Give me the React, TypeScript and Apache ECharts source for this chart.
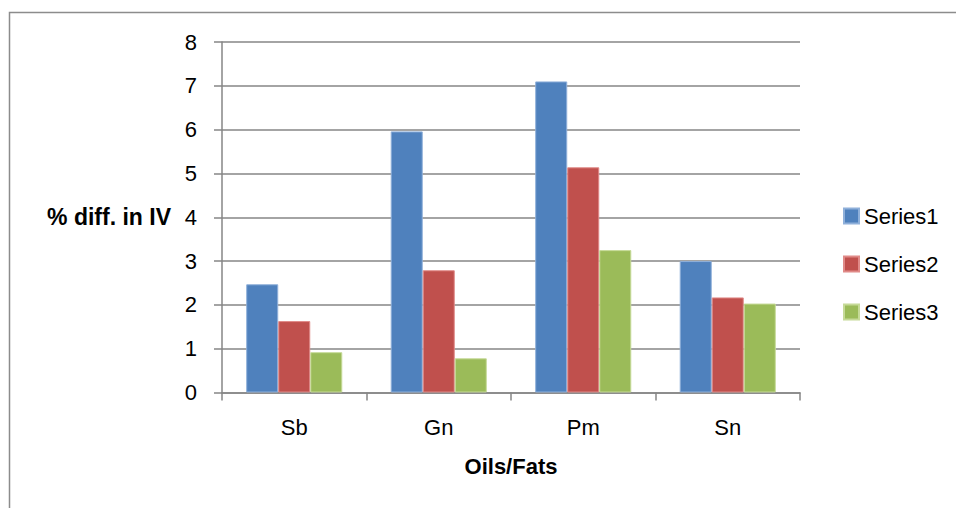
import React, { useEffect, useRef } from "react";
import * as echarts from "echarts";

const categories = ["Sb", "Gn", "Pm", "Sn"];
const series1 = [2.47, 5.96, 7.1, 3.0];
const series2 = [1.63, 2.79, 5.14, 2.17];
const series3 = [0.92, 0.78, 3.25, 2.03];
const seriesNames = ["Series1", "Series2", "Series3"];
const colors = ["#4F81BD", "#C0504D", "#9BBB59"];
const edgeColors = ["#8FB0DA", "#E08A88", "#C6DA98"];
const yTitle = "% diff. in IV";
const xTitle = "Oils/Fats";

const FONT = "'Liberation Sans', Arial, sans-serif";

export default function App() {
  const ref = useRef<HTMLDivElement>(null);
  useEffect(() => {
    if (!ref.current) return;
    const chart = echarts.init(ref.current, undefined, { renderer: "svg" });
    const data = [series1, series2, series3];
    chart.setOption({
      animation: false,
      backgroundColor: "#ffffff",
      textStyle: { fontFamily: FONT },
      grid: { left: 222, right: 156, top: 42, bottom: 115.5, containLabel: false },
      legend: {
        orient: "vertical",
        left: 838,
        top: 200,
        itemWidth: 15,
        itemHeight: 15,
        itemGap: 26,
        icon: "rect",
        data: seriesNames,
        textStyle: { fontSize: 22, color: "#000", fontFamily: FONT },
      },
      xAxis: {
        type: "category",
        data: categories,
        axisLine: { show: true, lineStyle: { color: "#868686", width: 1.5 } },
        axisTick: { show: true, length: 8, lineStyle: { color: "#868686", width: 1.5 } },
        axisLabel: { fontSize: 22, color: "#000", margin: 24, fontFamily: FONT },
        name: xTitle,
        nameLocation: "middle",
        nameGap: 63,
        nameTextStyle: { fontSize: 22, fontWeight: "bold", color: "#000", fontFamily: FONT },
      },
      yAxis: {
        type: "value",
        min: 0,
        max: 8,
        interval: 1,
        axisLine: { show: true, lineStyle: { color: "#868686", width: 1.5 } },
        axisTick: { show: true, length: 8, lineStyle: { color: "#868686", width: 1.5 } },
        axisLabel: { fontSize: 22, color: "#000", margin: 25, fontFamily: FONT },
        splitLine: { show: true, lineStyle: { color: "#868686", width: 1.5 } },
      },
      graphic: [
        {
          type: "rect",
          shape: { x: 9.5, y: 12.5, width: 1000, height: 600 },
          style: { fill: "none", stroke: "#8c8c8c", lineWidth: 1.5 },
          silent: true,
          z: -10,
        },
        {
          type: "text",
          x: 171,
          y: 217,
          style: {
            text: yTitle,
            fontSize: 23,
            fontWeight: "bold",
            fill: "#000",
            fontFamily: FONT,
            align: "right",
            verticalAlign: "middle",
          },
        },
      ],
      series: seriesNames.map((name, i) => ({
        name,
        type: "bar",
        data: data[i],
        barGap: "0%",
        barCategoryGap: "33.5%",
        itemStyle: { color: colors[i], borderColor: edgeColors[i], borderWidth: 1 },
      })),
    });
    return () => chart.dispose();
  }, []);
  return (
    <div
      ref={ref}
      style={{ position: "fixed", left: 0, top: 0, width: 956, height: 508 }}
    />
  );
}
